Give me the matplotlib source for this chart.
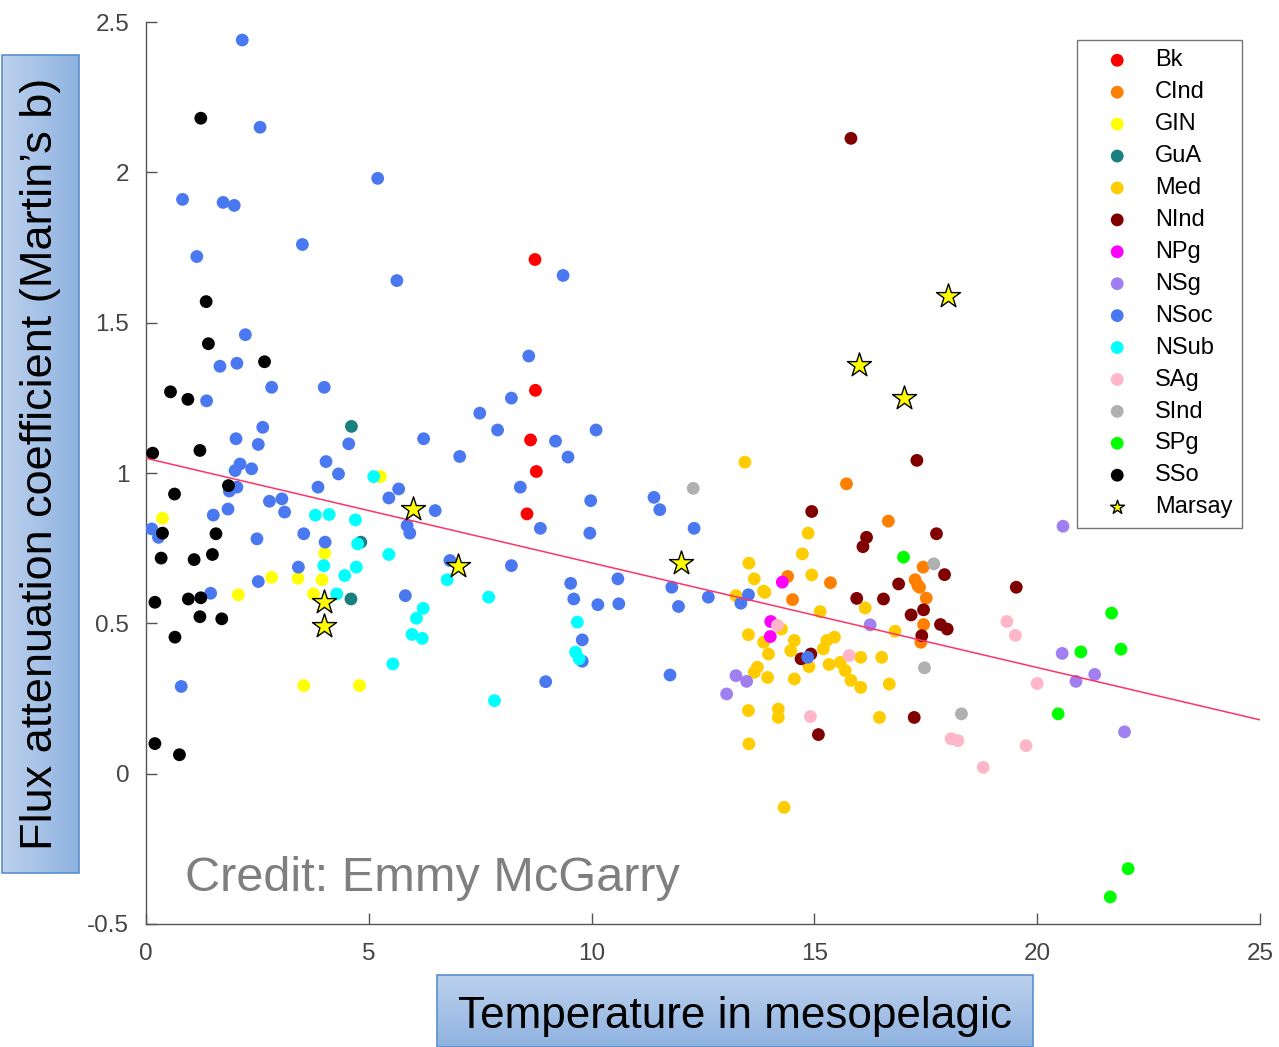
import matplotlib
matplotlib.use("Agg")
import matplotlib.pyplot as plt
import numpy as np
from matplotlib.patches import Rectangle

# ---- data: (temperature, Martin's b) per region ----
bk_t = [8.73, 8.74, 8.63, 8.76, 8.55]
bk_b = [1.71, 1.275, 1.11, 1.005, 0.864]

cind_t = [15.72, 16.66, 14.40, 15.36, 17.26, 17.32, 14.51, 17.51, 17.45, 17.39, 17.44, 17.36]
cind_b = [0.964, 0.840, 0.656, 0.635, 0.645, 0.626, 0.579, 0.584, 0.496, 0.437, 0.687, 0.620]

gin_t = [0.37, 5.26, 4.01, 2.82, 3.41, 3.95, 2.07, 3.76, 3.54, 4.79]
gin_b = [0.85, 0.988, 0.733, 0.653, 0.650, 0.645, 0.595, 0.598, 0.293, 0.293]

gua_t = [4.61, 4.82, 4.60]
gua_b = [1.155, 0.770, 0.581]

med_t = [13.44, 13.53, 13.65, 13.24, 13.86, 13.52, 13.52, 13.53,
         14.86, 14.73, 14.94, 13.89, 16.14, 15.13, 16.81, 14.26, 13.86, 14.55,
         14.47, 13.97, 15.28, 15.45, 15.20, 14.88, 16.04, 16.51, 15.33, 15.58,
         15.69, 15.82, 16.04, 13.72, 13.65, 13.95, 14.55, 16.68, 14.19, 14.19,
         16.46, 14.32]
med_b = [1.036, 0.700, 0.648, 0.592, 0.607, 0.462, 0.210, 0.099,
         0.800, 0.731, 0.661, 0.603, 0.551, 0.539, 0.474, 0.481, 0.437, 0.443,
         0.409, 0.398, 0.443, 0.454, 0.415, 0.356, 0.387, 0.387, 0.363, 0.370,
         0.343, 0.310, 0.287, 0.354, 0.337, 0.320, 0.315, 0.298, 0.215, 0.187,
         0.187, -0.112]

nind_t = [15.82, 17.30, 14.94, 16.17, 16.09, 17.74, 17.92, 16.89, 19.53, 15.95,
          16.55, 17.17, 17.45, 17.83, 17.98, 17.41, 14.70, 14.92, 17.24, 15.09]
nind_b = [2.113, 1.042, 0.872, 0.786, 0.755, 0.798, 0.662, 0.631, 0.620, 0.583,
          0.581, 0.528, 0.545, 0.496, 0.481, 0.459, 0.382, 0.398, 0.187, 0.130]

npg_t = [14.28, 14.02, 14.01]
npg_b = [0.637, 0.506, 0.456]

nsg_t = [16.25, 13.24, 13.48, 13.03, 20.58, 20.56, 21.29, 20.87, 21.96]
nsg_b = [0.495, 0.326, 0.307, 0.265, 0.823, 0.400, 0.330, 0.307, 0.139]

nsoc_t = [2.16, 2.56, 5.20, 0.82, 1.73, 1.98, 3.51, 1.14, 5.63, 2.23, 1.66, 2.04,
          2.82, 4.00, 1.36, 2.62, 2.02, 2.52, 4.55, 6.23, 7.04, 4.04, 2.11, 2.37,
          2.00, 4.32, 2.04, 1.87, 3.86, 5.67, 5.45, 2.77, 3.05, 6.49, 3.11, 1.84,
          1.51, 5.86, 5.92, 0.13, 0.28, 2.49, 3.54, 4.02, 3.42, 6.82, 2.52, 1.45,
          5.82, 0.79, 9.36, 8.59, 8.20, 7.49, 7.89, 10.10, 9.19, 9.47, 8.40, 9.98,
          11.40, 11.53, 8.85, 9.96, 12.30, 8.20, 9.53, 10.59, 11.80, 9.60, 10.14,
          10.61, 11.95, 12.62, 13.52, 13.35, 9.79, 9.79, 8.97, 11.76, 14.85]
nsoc_b = [2.44, 2.15, 1.98, 1.91, 1.90, 1.89, 1.76, 1.72, 1.64, 1.46, 1.355, 1.365,
          1.285, 1.285, 1.24, 1.152, 1.114, 1.095, 1.097, 1.114, 1.055, 1.038, 1.030, 1.014,
          1.008, 0.997, 0.953, 0.940, 0.953, 0.947, 0.917, 0.906, 0.914, 0.875, 0.870, 0.880,
          0.860, 0.825, 0.800, 0.814, 0.786, 0.781, 0.798, 0.770, 0.687, 0.709, 0.639, 0.600,
          0.592, 0.290, 1.657, 1.389, 1.249, 1.199, 1.143, 1.143, 1.106, 1.053, 0.953, 0.908,
          0.919, 0.878, 0.816, 0.800, 0.816, 0.692, 0.633, 0.648, 0.620, 0.581, 0.562,
          0.565, 0.556, 0.587, 0.595, 0.567, 0.445, 0.374, 0.306, 0.328, 0.387]

nsub_t = [5.11, 3.80, 4.11, 4.70, 4.75, 5.45, 3.99, 4.72, 6.76, 4.46, 4.28, 6.22,
          6.07, 5.97, 6.20, 5.54, 7.69, 9.68, 9.64, 9.72, 7.82]
nsub_b = [0.988, 0.860, 0.862, 0.844, 0.764, 0.729, 0.692, 0.687, 0.645, 0.659, 0.598, 0.550,
          0.517, 0.463, 0.450, 0.365, 0.587, 0.504, 0.404, 0.382, 0.243]

sag_t = [14.17, 15.78, 14.91, 18.07, 18.22, 18.79, 19.32, 19.51, 20.00, 19.75]
sag_b = [0.493, 0.393, 0.190, 0.116, 0.110, 0.021, 0.506, 0.460, 0.300, 0.093]

sind_t = [12.28, 17.68, 17.47, 18.30]
sind_b = [0.949, 0.698, 0.352, 0.199]

spg_t = [17.00, 21.67, 21.88, 20.98, 20.47, 22.04, 21.64]
spg_b = [0.720, 0.534, 0.414, 0.405, 0.199, -0.316, -0.410]

sso_t = [1.23, 1.35, 1.40, 2.66, 0.55, 0.94, 0.15, 1.21, 1.85, 0.64, 0.37, 1.57,
         0.34, 1.08, 1.49, 0.20, 0.95, 1.23, 1.21, 1.70, 0.65, 0.20, 0.75]
sso_b = [2.18, 1.57, 1.43, 1.37, 1.27, 1.245, 1.066, 1.075, 0.958, 0.93, 0.80, 0.798,
         0.717, 0.712, 0.729, 0.57, 0.581, 0.585, 0.522, 0.515, 0.454, 0.10, 0.063]

marsay_t = [6.0, 7.0, 4.0, 4.0, 12.0, 16.0, 17.0, 18.0]
marsay_b = [0.88, 0.69, 0.57, 0.49, 0.70, 1.36, 1.25, 1.59]

# regression of b on temperature
fit_intercept = 1.049
fit_slope = -0.0348

groups = [
    ("Bk", bk_t, bk_b, "#ff0000"),
    ("CInd", cind_t, cind_b, "#ff8000"),
    ("GIN", gin_t, gin_b, "#ffff00"),
    ("GuA", gua_t, gua_b, "#1a7f7f"),
    ("Med", med_t, med_b, "#ffcc00"),
    ("NInd", nind_t, nind_b, "#800000"),
    ("NPg", npg_t, npg_b, "#ff00ff"),
    ("NSg", nsg_t, nsg_b, "#a080f0"),
    ("NSoc", nsoc_t, nsoc_b, "#4a78f0"),
    ("NSub", nsub_t, nsub_b, "#00ffff"),
    ("SAg", sag_t, sag_b, "#ffb6c8"),
    ("SInd", sind_t, sind_b, "#b0b0b0"),
    ("SPg", spg_t, spg_b, "#00ff00"),
    ("SSo", sso_t, sso_b, "#000000"),
]

W, H = 1279, 1047
fig = plt.figure(figsize=(W / 100, H / 100), dpi=100)
fig.patch.set_facecolor("white")

ax = fig.add_axes([146 / W, 1 - 924 / H, (1260 - 146) / W, (924 - 22) / H])

for name, t, b, col in groups:
    ax.scatter(t, b, s=85, c=col, edgecolors="none", label=name, zorder=3)
ax.scatter(marsay_t, marsay_b, s=330, marker="*", c="#ffff00",
           edgecolors="black", linewidths=1.0, label="Marsay", zorder=5)

xs = np.array([0, 25])
ax.plot(xs, fit_intercept + fit_slope * xs, color="#ff3366", lw=1.1, zorder=4)

ax.set_xlim(0, 25)
ax.set_ylim(-0.5, 2.5)
ax.set_xticks([0, 5, 10, 15, 20, 25])
ax.set_xticklabels(["0", "5", "10", "15", "20", "25"])
ax.set_yticks([-0.5, 0, 0.5, 1, 1.5, 2, 2.5])
ax.set_yticklabels(["-0.5", "0", "0.5", "1", "1.5", "2", "2.5"])
for s in ("top", "right"):
    ax.spines[s].set_visible(False)
for s in ("left", "bottom"):
    ax.spines[s].set_color("#555555")
    ax.spines[s].set_linewidth(1.0)
ax.tick_params(direction="in", length=8, width=1, colors="#555555",
               labelsize=17.5, labelcolor="#444444")
ax.tick_params(axis="x", pad=14)
ax.tick_params(axis="y", pad=12)
for lab in ax.get_xticklabels() + ax.get_yticklabels():
    lab.set_family("Liberation Sans")

leg = ax.legend(loc="upper right", bbox_to_anchor=(0.984, 0.98), borderaxespad=0,
                frameon=True, fancybox=False, edgecolor="#555555",
                labelspacing=0.42, handlelength=2.6, handletextpad=0.31,
                borderpad=0.4, markerscale=1.0,
                prop={"family": "Liberation Sans", "size": 17})
leg.get_frame().set_linewidth(1.0)
# the star key is drawn at dot size
leg.legend_handles[-1].set_sizes([110])

ax.text(0.035, 0.05, "Credit: Emmy McGarry", transform=ax.transAxes,
        color="#7f7f7f", fontsize=35, va="center", ha="left",
        family=["Liberation Sans Narrow", "Liberation Sans"])


def gradient_box(x0, y0, x1, y1, horizontal):
    """Light-to-dark blue filled box given in pixel coords (origin top-left)."""
    bax = fig.add_axes([x0 / W, 1 - y1 / H, (x1 - x0) / W, (y1 - y0) / H])
    g = np.linspace(0, 1, 256)
    c0 = np.array([0.74, 0.82, 0.93])
    c1 = np.array([0.56, 0.70, 0.88])
    img = c0[None, :] + (c1 - c0)[None, :] * g[:, None]
    if horizontal:
        img = img[None, :, :]
        bax.imshow(img, aspect="auto", extent=[0, 1, 0, 1])
        bax.set_ylim(0, 1)
    else:
        img = img[:, None, :]
        bax.imshow(img, aspect="auto", extent=[0, 1, 1, 0])
        bax.set_ylim(1, 0)
    bax.set_xlim(0, 1)
    bax.set_axis_off()
    bax.add_patch(Rectangle((0, 0), 1, 1, transform=bax.transAxes, fill=False,
                            edgecolor="#5b8fd0", lw=1.2, clip_on=False))
    return bax


yb = gradient_box(2, 55, 79, 873, horizontal=True)
yb.text(0.5, 0.5, "Flux attenuation coefficient (Martin\u2019s b)", transform=yb.transAxes,
        rotation=90, ha="center", va="center", fontsize=32.5, color="black",
        family=["Liberation Sans Narrow", "Liberation Sans"])

xb = gradient_box(437, 975, 1033, 1047, horizontal=False)
xb.text(0.5, 0.42, "Temperature in mesopelagic", transform=xb.transAxes,
        ha="center", va="center", fontsize=31.8, color="black",
        family=["Liberation Sans Narrow", "Liberation Sans"])

fig.savefig("out.png", dpi=100)
